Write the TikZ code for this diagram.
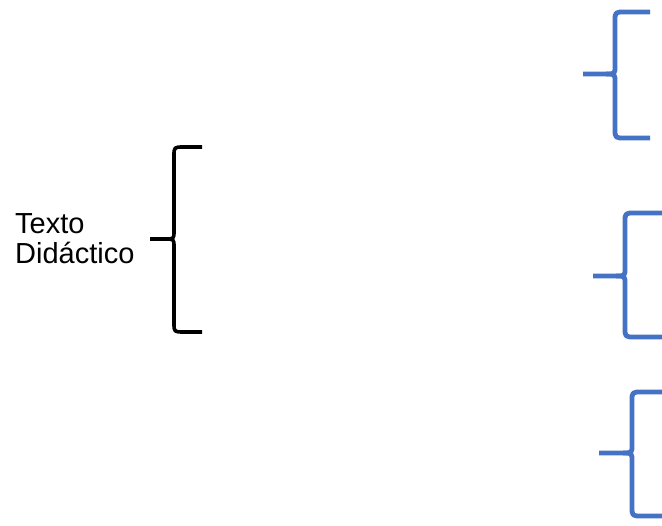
\documentclass[tikz,border=0pt]{standalone}
\usepackage{fontspec}
\setmainfont{Liberation Sans}
\definecolor{obblue}{HTML}{4472C4}
\newcommand\mybrace[7]{% style, tipx, tipy, vx, top, bottom, rightx
  \draw[#1] (#2,#3) -- ({#4-9},#3) .. controls (#4,#3) .. (#4,{#3-8}) -- (#4,{#5+9}) .. controls (#4,#5) .. ({#4+10},#5) -- (#7,#5);
  \draw[#1] ({#4-9},#3) .. controls (#4,#3) .. (#4,{#3+8}) -- (#4,{#6-9}) .. controls (#4,#6) .. ({#4+10},#6) -- (#7,#6);
}
\begin{document}
\begin{tikzpicture}[x=1pt,y=-1pt,
  blackbrace/.style={line width=3.6pt,black,line join=round},
  bluebrace/.style={line width=4.8pt,obblue,line join=round},
  label/.style={font=\fontsize{29}{30}\selectfont,align=left,inner sep=0pt,anchor=west}]
\useasboundingbox (0,0) rectangle (662,526);
\node[label] (txt) at (15,239) {Texto\\Didáctico};
\mybrace{blackbrace}{150}{239}{174}{147}{332}{202}
\mybrace{bluebrace}{583}{74}{615}{12}{138}{650}
\mybrace{bluebrace}{593}{276}{625}{213}{337}{662}
\mybrace{bluebrace}{599}{453}{632}{392}{516}{662}
\end{tikzpicture}
\end{document}
